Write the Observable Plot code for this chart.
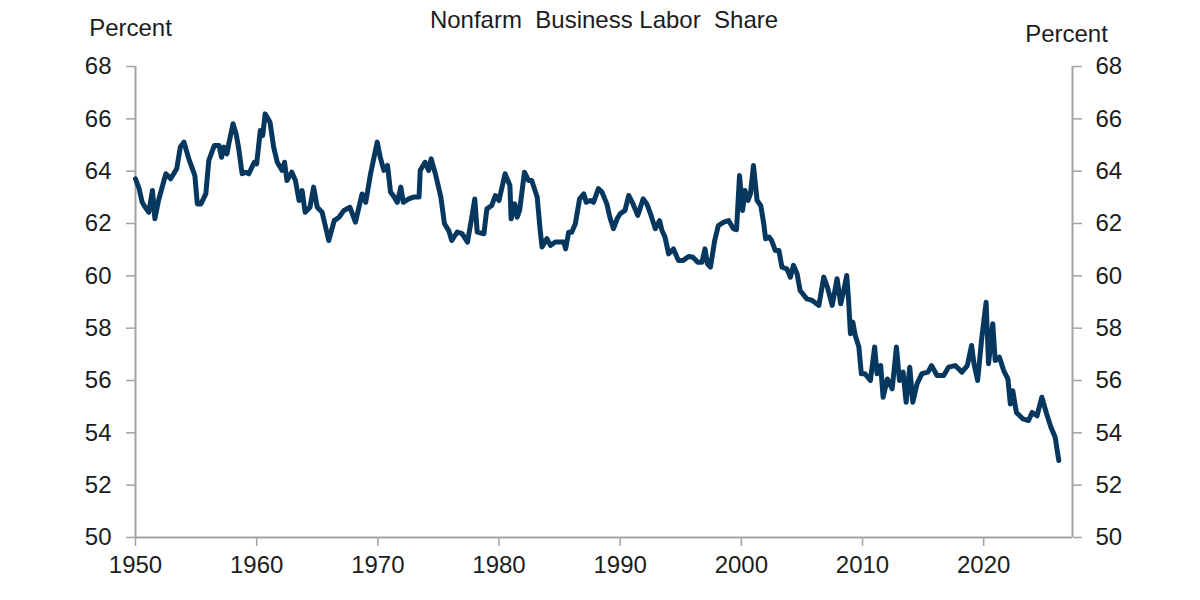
<!DOCTYPE html>
<html>
<head>
<meta charset="utf-8">
<script src="https://cdn.jsdelivr.net/npm/d3@7"></script>
<script src="https://cdn.jsdelivr.net/npm/@observablehq/plot@0.6"></script>
<style>
  html, body { margin: 0; padding: 0; background: #fff; }
  #chart svg { display: block; }
</style>
</head>
<body>
<div id="chart"></div>
<script>
// ---- data ----
const title = "Nonfarm  Business Labor  Share";
const unitLabel = "Percent";
const yTicks = [50, 52, 54, 56, 58, 60, 62, 64, 66, 68];
const xTicks = [1950, 1960, 1970, 1980, 1990, 2000, 2010, 2020];

const years = [
  1950.0,1950.3,1950.55,1950.8,1951.1,1951.4,1951.6,1951.9,1952.5,1952.9,1953.4,1953.7,1954.0,1954.4,1954.9,1955.1,1955.4,1955.8,1956.05,1956.5,1956.9,1957.1,1957.3,1957.55,1957.7,1958.05,1958.3,1958.5,1958.8,1959.1,1959.35,1959.8,1960.0,1960.3,1960.5,1960.7,1961.1,1961.4,1961.7,1962.1,1962.3,1962.5,1962.9,1963.2,1963.5,1963.75,1964.0,1964.4,1964.7,1965.0,1965.4,1965.95,1966.4,1966.8,1967.2,1967.7,1968.15,1968.7,1969.0,1969.4,1969.95,
  1970.2,1970.5,1970.8,1971.05,1971.35,1971.6,1971.9,1972.1,1972.55,1972.95,1973.4,1973.5,1973.9,1974.2,1974.4,1974.75,1975.2,1975.5,1975.85,1976.1,1976.55,1976.95,1977.4,1977.8,1978.0,1978.2,1978.75,1979.0,1979.4,1979.7,1980.0,1980.5,1980.9,1981.0,1981.3,1981.5,1981.7,1982.1,1982.45,1982.7,1983.15,1983.4,1983.55,1983.95,1984.25,1984.65,1985.05,1985.35,1985.5,1985.75,1986.0,1986.3,1986.65,1987.0,1987.2,1987.55,1987.8,1988.2,1988.5,1988.9,1989.15,1989.45,1989.75,
  1990.0,1990.4,1990.7,1991.0,1991.45,1991.9,1992.2,1992.55,1992.9,1993.25,1993.45,1993.7,1994.0,1994.4,1994.8,1995.2,1995.65,1996.0,1996.4,1996.75,1997.0,1997.2,1997.45,1997.8,1998.1,1998.55,1998.95,1999.35,1999.6,1999.85,2000.1,2000.3,2000.55,2000.75,2001.0,2001.3,2001.6,2001.85,2002.0,2002.3,2002.5,2002.8,2003.1,2003.35,2003.75,2004.05,2004.3,2004.6,2004.85,2005.4,2005.85,2006.4,2006.8,2007.1,2007.5,2007.9,2008.2,2008.45,2008.7,2008.85,2009.0,2009.2,2009.4,2009.7,2009.9,2010.2,2010.65,2011.0,2011.2,2011.5,2011.7,2012.05,2012.45,2012.8,2013.05,2013.35,2013.6,2013.9,2014.15,2014.5,2014.9,2015.4,2015.7,2016.15,2016.7,2017.1,2017.65,2018.2,2018.65,2019.0,2019.2,2019.5,2019.85,2020.2,2020.4,2020.75,2020.95,2021.3,2021.65,2022.0,2022.2,2022.4,2022.7,2023.25,2023.7,2024.0,2024.4,2024.8,2025.2,2025.55,2025.9,2026.2
];

const share = [
  63.71,63.33,62.81,62.62,62.43,63.26,62.18,62.88,63.90,63.71,64.09,64.92,65.11,64.47,63.83,62.75,62.75,63.13,64.41,64.98,64.98,64.53,64.92,64.66,65.05,65.81,65.43,64.92,63.90,63.96,63.90,64.34,64.28,65.55,65.36,66.19,65.87,64.92,64.34,64.03,64.34,63.64,63.96,63.64,62.88,63.26,62.43,62.62,63.39,62.62,62.43,61.35,62.11,62.24,62.50,62.62,62.05,63.13,62.81,63.90,65.11,
  64.53,64.03,64.22,63.20,63.01,62.81,63.39,62.81,62.94,63.01,63.01,64.03,64.34,64.03,64.47,63.90,63.01,61.99,61.73,61.35,61.67,61.61,61.29,62.37,62.94,61.67,61.61,62.56,62.69,63.07,62.88,63.90,63.45,62.18,62.75,62.24,62.50,63.96,63.64,63.64,63.01,61.73,61.10,61.42,61.16,61.29,61.29,61.29,61.03,61.67,61.67,61.99,62.94,63.13,62.81,62.88,62.81,63.33,63.20,62.75,62.24,61.80,62.18,
  62.37,62.50,63.07,62.81,62.31,62.94,62.75,62.31,61.80,62.11,61.73,61.48,60.84,61.03,60.59,60.59,60.74,60.71,60.52,60.52,61.03,60.46,60.33,61.35,61.92,62.05,62.11,61.80,61.76,63.83,62.50,63.26,62.88,63.13,64.22,62.88,62.69,61.99,61.42,61.48,61.35,60.97,60.97,60.33,60.27,59.95,60.40,60.08,59.44,59.12,59.06,58.87,59.95,59.57,58.87,59.89,58.93,59.44,60.01,59.06,57.79,58.23,57.72,57.28,56.26,56.26,56.00,57.28,56.26,56.57,55.36,56.06,55.68,57.28,56.00,56.32,55.17,56.51,55.17,55.87,56.26,56.32,56.57,56.19,56.19,56.51,56.57,56.32,56.57,57.34,56.64,56.00,57.66,58.99,56.64,58.17,56.76,56.89,56.38,56.06,55.10,55.61,54.78,54.53,54.47,54.78,54.65,55.36,54.72,54.21,53.83,52.94
];

// ---- build table ----
const data = years.map((y, i) => ({year: y, value: share[i]}));

const xMin = 1950, xMax = 2027.33;
const axisColor = "#a3a3a3";
const textColor = "#1c1c1c";
const lineColor = "#06375f";
const font = "'Liberation Sans', Arial, sans-serif";
const fs = 24;

const chart = Plot.plot({
  width: 1200,
  height: 600,
  marginLeft: 135,
  marginRight: 128,
  marginTop: 66,
  marginBottom: 63,
  style: {fontFamily: font, fontSize: fs + "px", color: textColor, background: "#fff", overflow: "visible"},
  x: {domain: [xMin, xMax], axis: null},
  y: {domain: [50, 68], axis: null},
  marks: [
    Plot.axisY({anchor: "left", ticks: yTicks, tickSize: 9, tickPadding: 15, stroke: axisColor, strokeWidth: 1.5, fill: textColor, label: null, fontSize: fs}),
    Plot.axisY({anchor: "right", ticks: yTicks, tickSize: 9, tickPadding: 14, stroke: axisColor, strokeWidth: 1.5, fill: textColor, label: null, fontSize: fs}),
    Plot.axisX({ticks: xTicks, tickFormat: d => String(d), tickSize: 9, tickPadding: 9, stroke: axisColor, strokeWidth: 1.5, fill: textColor, label: null, fontSize: fs}),
    Plot.ruleX([xMin, xMax], {stroke: axisColor, strokeWidth: 2}),
    Plot.ruleY([50], {stroke: axisColor, strokeWidth: 2}),
    Plot.line(data, {x: "year", y: "value", stroke: lineColor, strokeWidth: 5, strokeLinejoin: "round", strokeLinecap: "round"}),
    Plot.text([title], {frameAnchor: "top", dy: -46, fontSize: fs, fill: textColor, lineAnchor: "middle"}),
    Plot.text([unitLabel], {frameAnchor: "top-left", dx: -5, dy: -38, textAnchor: "middle", lineAnchor: "middle", fontSize: fs, fill: textColor}),
    Plot.text([unitLabel], {frameAnchor: "top-right", dx: -6, dy: -32, textAnchor: "middle", lineAnchor: "middle", fontSize: fs, fill: textColor})
  ]
});
document.getElementById("chart").appendChild(chart);
</script>
</body>
</html>
